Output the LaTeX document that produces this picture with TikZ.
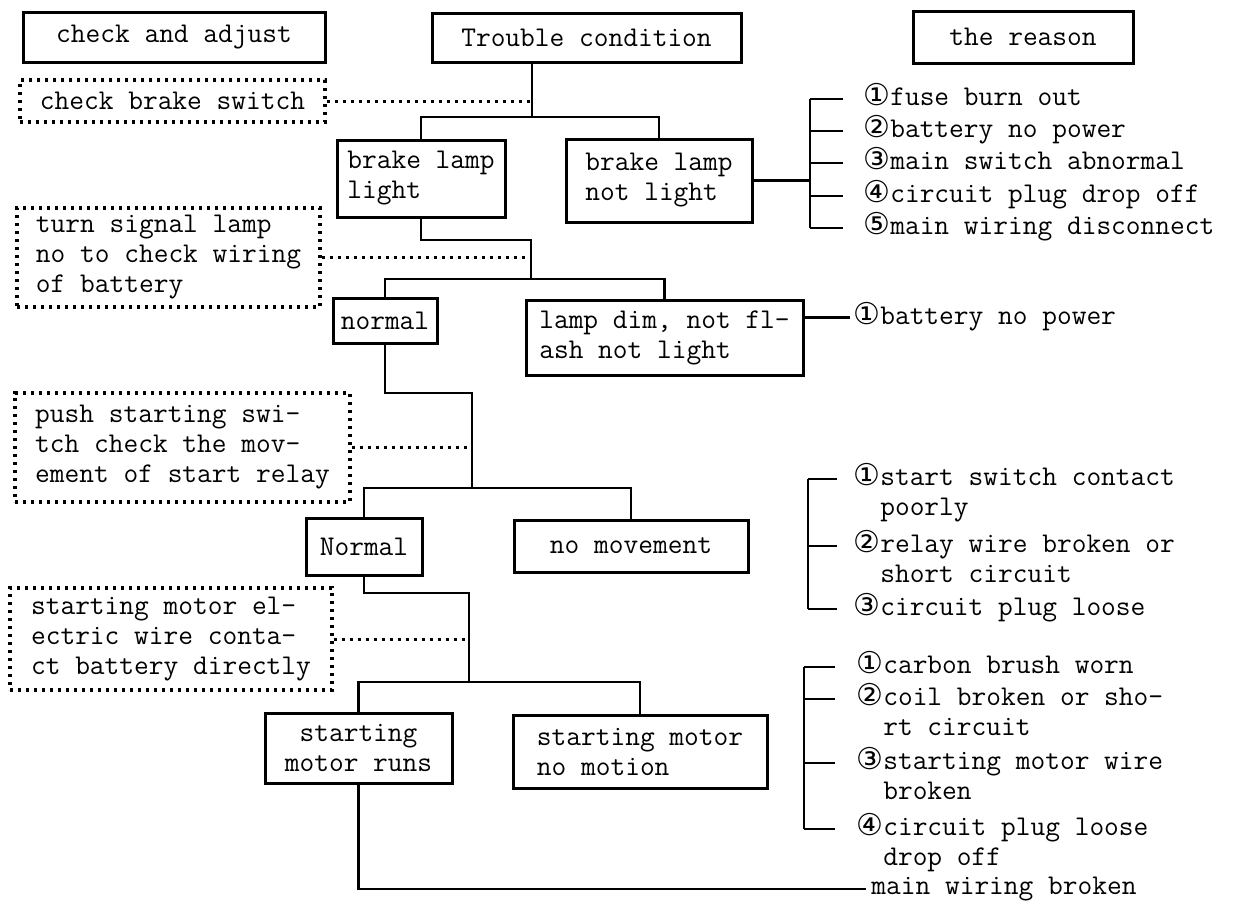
\documentclass[tikz,border=0pt]{standalone}
\usepackage{fontspec}
\newfontfamily\circfont{DejaVu Sans}
\newcommand{\cnum}[1]{{\circfont\fontsize{15}{15}\selectfont\ifcase#1\or①\or②\or③\or④\or⑤\fi}}
\newcommand{\reasonitem}[2]{\cnum{#1}\begin{tabular}[t]{@{}l@{}}#2\end{tabular}}

\begin{document}
\begin{tikzpicture}[x=0.5pt,y=-0.5pt,font=\ttfamily\fontsize{14.3}{15}\selectfont,line width=1.4pt,
    box/.style={draw,line width=1.5pt,inner sep=2pt,align=left},
    dotbox/.style={box,line width=1.6pt,dash pattern=on 1.6pt off 2.4pt},
    dotline/.style={line width=1.5pt,dash pattern=on 1.5pt off 2.5pt},
    reason/.style={inner sep=1pt,anchor=base west,yshift=-3pt}]
    \path[use as bounding box,fill=white] (0,0) rectangle (1250,905);

    % headings
    \node[box,minimum width=151pt,minimum height=25pt] (adjust) at (174,37) {check and adjust};
    \node[box,minimum width=154.5pt,minimum height=24.5pt] (trouble) at (586.5,37.5) {Trouble condition};
    \node[box,minimum width=110pt,minimum height=26pt] (reason) at (1023,37) {the reason};

    % trouble conditions
    \node[box,minimum width=84pt,minimum height=38.5pt] (lamplight) at (421,178.5) {brake lamp\\light};
    \node[box,minimum width=93pt,minimum height=41.5pt] (lampnot) at (659,180.5) {brake lamp\\not light};
    \node[box,minimum width=52pt,minimum height=22.5pt] (lampok) at (385,320.5) {normal};
    \node[box,minimum width=138.5pt,minimum height=37.5pt] (dim) at (664.5,337.5) {lamp dim, not fl-\\ash not light};
    \node[box,minimum width=58pt,minimum height=28.5pt] (relayok) at (364,546.5) {Normal};
    \node[box,minimum width=117pt,minimum height=26pt] (nomove) at (631,546) {no movement};
    \node[box,align=center,minimum width=93.5pt,minimum height=35pt] (runs) at (358.5,748) {starting\\motor runs};
    \node[box,minimum width=127pt,minimum height=36.5pt] (nomotion) at (640,751.5) {starting motor\\no motion};

    % checks
    \node[dotbox,minimum width=152.5pt,minimum height=21pt] (chkswitch) at (172.5,101) {check brake switch};
    \node[dotbox,minimum width=151.5pt,minimum height=49.5pt] (signal) at (168.5,257.5) {turn signal lamp\\no to check wiring\\of battery};
    \node[dotbox,minimum width=167.5pt,minimum height=54.5pt] (push) at (182.5,447.5) {push starting swi-\\tch check the mov-\\ement of start relay};
    \node[dotbox,minimum width=161pt,minimum height=51pt] (direct) at (171,639) {starting motor el-\\ectric wire conta-\\ct battery directly};

    % tree
    \coordinate (j1) at (532,117);
    \draw (j1) -- (j1 |- trouble.south);
    \draw (lamplight.north) |- (j1) -| (lampnot.north);
    \draw[dotline] (chkswitch.east) -- (chkswitch.east -| j1);

    \coordinate (j2) at (531,240);
    \coordinate (j3) at (531,279);
    \draw (lamplight.south) |- (j2) -- (j3);
    \draw (lampok.north) |- (j3) -| (dim.north);
    \draw[dotline] (signal.east) -- (signal.east -| j2);

    \coordinate (j4) at (472,393);
    \coordinate (j5) at (472,488);
    \draw (lampok.south) |- (j4) -- (j5);
    \draw (relayok.north) |- (j5) -| (nomove.north);
    \draw[dotline] (push.east) -- (push.east -| j4);

    \coordinate (j6) at (469,593);
    \coordinate (j7) at (469,682);
    \draw (relayok.south) |- (j6) -- (j7);
    \draw (runs.north) |- (j7) -| (nomotion.north);
    \draw[dotline] (direct.east) -- (direct.east -| j6);

    % reasons
    \coordinate (brA) at (810,99);
    \draw (lampnot.east) -- (lampnot.east -| brA);
    \draw (brA) -- (810,228);
    \foreach \i/\y/\txt in {1/99/fuse burn out, 2/131/battery no power, 3/163/main switch abnormal,
                            4/196/circuit plug drop off, 5/228/main wiring disconnect} {
        \draw (810,\y) -- (843,\y);
        \node[reason] (rA\i) at (860,\y) {\reasonitem{\i}{\txt}};
    }

    \node[reason] (rB1) at (850,318) {\reasonitem{1}{battery no power}};
    \draw (rB1.west) -- (rB1.west -| dim.east);

    \draw (808,479) -- (808,609);
    \foreach \i/\y/\txt in {1/479/start switch contact\\poorly, 2/546/relay wire broken or\\short circuit,
                            3/609/circuit plug loose} {
        \draw (808,\y) -- (837,\y);
        \node[reason] (rC\i) at (850,\y) {\reasonitem{\i}{\txt}};
    }

    \draw (804,667) -- (804,829);
    \foreach \i/\y/\txt in {1/667/carbon brush worn, 2/699/coil broken or sho-\\rt circuit,
                            3/763/starting motor wire\\broken, 4/829/circuit plug loose\\drop off} {
        \draw (804,\y) -- (835,\y);
        \node[reason] (rD\i) at (853,\y) {\reasonitem{\i}{\txt}};
    }

    \node[anchor=west,inner sep=2pt] (mainwire) at (866,889) {main wiring broken};
    \draw (runs.south) |- (mainwire.west);
\end{tikzpicture}
\end{document}
